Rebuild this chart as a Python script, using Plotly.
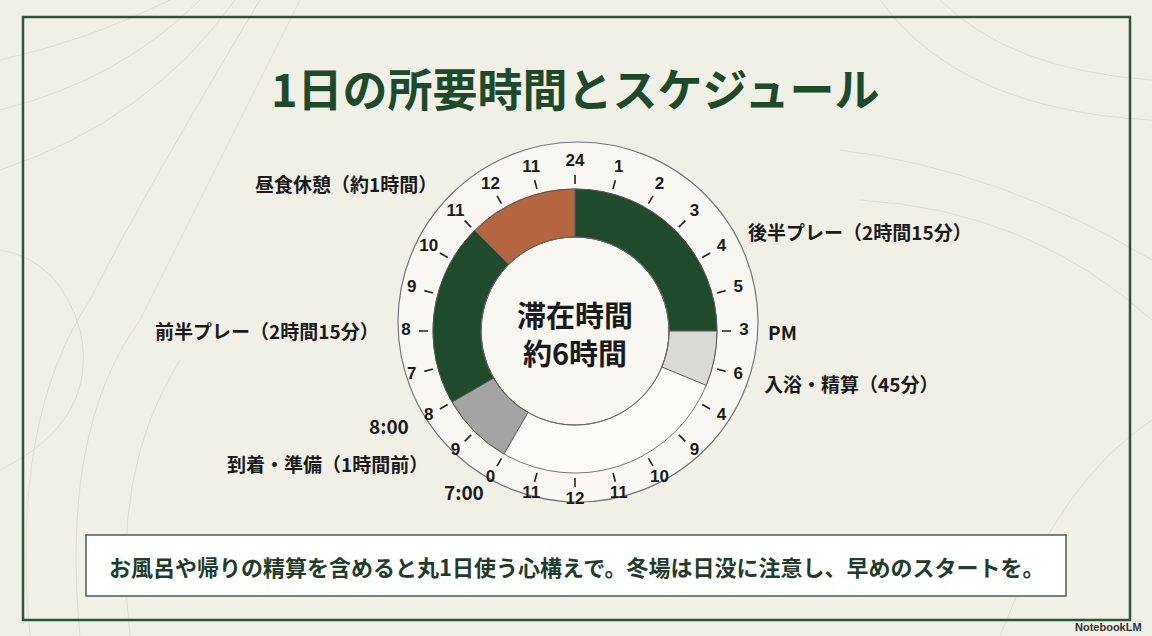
import plotly.graph_objects as go

# ---------------- data ----------------
segment_names = ["後半プレー", "入浴・精算", "到着・準備", "前半プレー", "昼食休憩"]
segment_start = [0, 6, 14, 16, 21]          # clock slot (24 slots round the dial)
segment_span = [6, 1.5, 2, 5, 3]             # slots
segment_colors = ["#1f4a2e", "#d9d9d6", "#a4a4a2", "#1f4a2e", "#b5653f"]

tick_labels = ["24", "1", "2", "3", "4", "5", "3", "6", "4", "9", "10", "11",
               "12", "11", "0", "9", "8", "7", "8", "9", "10", "11", "12", "11"]

label_texts = ["昼食休憩（約1時間）", "後半プレー（2時間15分）", "前半プレー（2時間15分）",
               "入浴・精算（45分）", "PM", "8:00", "到着・準備（1時間前）", "7:00"]
label_pos = [(346, 183), (860, 232), (267, 330), (851, 383), (782, 331),
             (389, 425), (327, 463), (464, 491)]

title_text = "1日の所要時間とスケジュール"
center_text = "滞在時間<br>約6時間"
note_text = "お風呂や帰りの精算を含めると丸1日使う心構えで。冬場は日没に注意し、早めのスタートを。"

# ---------------- geometry ----------------
W, H = 1152, 636
CX, CY, R = 575, 331, 172
SLOT = 360 / 24


def px(x):
    return x / W


def py(y):
    return 1 - y / H


fig = go.Figure()

# full ring (empty part)
fig.add_trace(go.Barpolar(
    theta=[180], width=[360], r=[48], base=[94],
    marker=dict(color="#fbfbf7", line=dict(color="#777", width=1)),
    hoverinfo="skip", showlegend=False))

# segments
fig.add_trace(go.Barpolar(
    theta=[(s + w / 2) * SLOT for s, w in zip(segment_start, segment_span)],
    width=[w * SLOT for w in segment_span],
    r=[48] * len(segment_span), base=[94] * len(segment_span),
    hovertext=segment_names, hoverinfo="text",
    marker=dict(color=segment_colors, line=dict(color="#555", width=1)),
    showlegend=False))

# inner circle outline
fig.add_trace(go.Scatterpolar(
    r=[94] * 361, theta=list(range(361)), mode="lines",
    line=dict(color="#666", width=1), hoverinfo="skip", showlegend=False))

# tick marks
tr, tt = [], []
for i in range(24):
    tr += [147, 156, None]
    tt += [i * SLOT, i * SLOT, None]
fig.add_trace(go.Scatterpolar(
    r=tr, theta=tt, mode="lines", line=dict(color="#222", width=1.6),
    hoverinfo="skip", showlegend=False))

# tick labels
fig.add_trace(go.Scatterpolar(
    r=[169] * 24, theta=[i * SLOT for i in range(24)], mode="text",
    text=["<b>" + t + "</b>" for t in tick_labels],
    textfont=dict(family="Liberation Sans, Arial", size=17, color="#1a1a1a"),
    hoverinfo="skip", showlegend=False, cliponaxis=False))

fig.update_layout(
    width=W, height=H,
    margin=dict(l=0, r=0, t=0, b=0),
    paper_bgcolor="#f1f0e7",
    plot_bgcolor="#f1f0e7",
    polar=dict(
        domain=dict(x=[px(CX - R), px(CX + R)], y=[py(CY + R), py(CY - R)]),
        bgcolor="rgba(0,0,0,0)",
        hole=0,
        radialaxis=dict(range=[0, R], visible=False),
        angularaxis=dict(rotation=90, direction="clockwise", visible=False,
                         thetaunit="degrees"),
        barmode="overlay",
    ),
)


def path(pts):
    s = "M %f,%f" % (px(pts[0][0]), py(pts[0][1]))
    for i in range(1, len(pts) - 1, 2):
        s += " Q %f,%f %f,%f" % (px(pts[i][0]), py(pts[i][1]), px(pts[i + 1][0]), py(pts[i + 1][1]))
    return s


# faint decorative contour lines (background texture)
contours = [
    [(0, 60), (90, 40), (170, 0)],
    [(0, 110), (120, 80), (200, 0)],
    [(0, 170), (150, 120), (235, 0)],
    [(30, 636), (10, 420), (90, 300), (140, 200), (260, 0)],
    [(80, 636), (60, 430), (140, 320), (200, 200), (300, 0)],
    [(130, 636), (110, 470), (180, 360)],
    [(0, 250), (60, 260), (80, 330), (100, 420), (0, 470)],
    [(880, 0), (960, 110), (1152, 120)],
    [(940, 0), (1010, 70), (1152, 80)],
    [(840, 150), (1000, 170), (1152, 260)],
    [(860, 200), (1030, 210), (1152, 320)],
    [(1000, 636), (1060, 480), (1152, 420)],
]
shapes = [dict(type="path", xref="paper", yref="paper", path=path(c),
               line=dict(color="#dddcd0", width=1), layer="below") for c in contours]

shapes += [
    # outer frame
    dict(type="rect", xref="paper", yref="paper",
         x0=px(23), x1=px(1130), y0=py(620), y1=py(17),
         line=dict(color="#2c5538", width=2.5), fillcolor="rgba(0,0,0,0)", layer="below"),
    # dial disk
    dict(type="circle", xref="paper", yref="paper",
         x0=px(578 - 180), x1=px(578 + 180), y0=py(322 + 180), y1=py(322 - 180),
         line=dict(color="#777", width=1.2), fillcolor="#f8f7f1", layer="below"),
    # note box
    dict(type="rect", xref="paper", yref="paper",
         x0=px(86), x1=px(1066), y0=py(596), y1=py(535),
         line=dict(color="#4a5e4e", width=1.5), fillcolor="#ffffff", layer="below"),
]
fig.update_layout(shapes=shapes)


def a(text, x, y, size, color, family="Noto Sans CJK JP"):
    return dict(text=text, x=px(x), y=py(y), xref="paper", yref="paper",
                xanchor="center", yanchor="middle", showarrow=False,
                font=dict(family=family, size=size, color=color))


ann = [a("<b>" + title_text + "</b>", 575, 88, 45, "#1e4a2c"),
       a("<b>" + center_text + "</b>", CX, CY + 2, 29, "#1a1a1a")]
for t, (x, y) in zip(label_texts, label_pos):
    ann.append(a("<b>" + t + "</b>", x, y, 19, "#1a1a1a"))
ann.append(a("<b>" + note_text + "</b>", 576, 566, 22, "#1f3d2a"))
ann.append(a("<b>NotebookLM</b>", 1108, 627, 11, "#333", "Liberation Sans"))
fig.update_layout(annotations=ann)

fig.write_html("out.html", config={"displayModeBar": False},
               post_script="document.body.style.margin='0';")
